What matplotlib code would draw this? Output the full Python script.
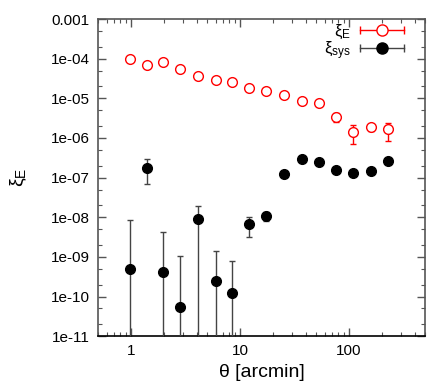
import numpy as np
import matplotlib
matplotlib.use("Agg")
import matplotlib.pyplot as plt
from matplotlib.lines import Line2D
from matplotlib.container import ErrorbarContainer
from matplotlib.legend_handler import HandlerBase
from matplotlib.ticker import FixedLocator, LogLocator, NullFormatter

plt.rcParams['font.family'] = ['Liberation Sans', 'DejaVu Sans']
plt.rcParams['mathtext.fontset'] = 'custom'
plt.rcParams['mathtext.rm'] = 'Liberation Sans'
plt.rcParams['mathtext.it'] = 'Liberation Sans:italic'

# angular bins [arcmin]
theta = [0.98, 1.40, 1.98, 2.85, 4.1, 6.0, 8.5, 12.2, 17.5, 25.5, 37.5, 53, 76, 108, 158, 230]

# E-mode correlation and errors
xi_e = [9.8e-5, 6.9e-5, 8.2e-5, 5.5e-5, 3.6e-5, 2.9e-5, 2.6e-5, 1.8e-5,
        1.52e-5, 1.2e-5, 8.5e-6, 7.6e-6, 3.4e-6, 1.4e-6, 1.9e-6, 1.66e-6]
xi_e_err = [6e-6, 5e-6, 5e-6, 4e-6, 2.5e-6, 2e-6, 2e-6, 1.5e-6,
            1.3e-6, 1.1e-6, 1.1e-6, 1.0e-6, 9e-7, 7e-7, 4e-7, 8e-7]

# systematics correlation and errors
xi_sys = [4.9e-10, 1.8e-7, 4.1e-10, 5.4e-11, 9.3e-9, 2.4e-10, 1.2e-10, 6.6e-9,
          1.07e-8, 1.23e-7, 2.9e-7, 2.5e-7, 1.56e-7, 1.3e-7, 1.44e-7, 2.6e-7]
xi_sys_err = [7.8e-9, 1.1e-7, 3.8e-9, 1.0e-9, 9.7e-9, 1.2e-9, 6.6e-10, 3.4e-9,
              2.8e-9, 1.5e-8, 3e-8, 3e-8, 2e-8, 1.5e-8, 1.5e-8, 3e-8]

yticks = [1e-11, 1e-10, 1e-9, 1e-8, 1e-7, 1e-6, 1e-5, 1e-4, 1e-3]
ytick_labels = ['1e-11', '1e-10', '1e-09', '1e-08', '1e-07', '1e-06', '1e-05', '1e-04', '0.001']
xticks = [1, 10, 100]
xtick_labels = ['1', '10', '100']


class ErrHandler(HandlerBase):
    """gnuplot-style key: horizontal bar with caps and a point in the middle"""
    def create_artists(self, legend, orig, xdescent, ydescent, width, height, fontsize, trans):
        data_line = orig[0]
        ecol = orig[2][0].get_color()[0]
        y = height / 2 - ydescent
        x0, x1 = -xdescent, width - xdescent
        bar = Line2D([x0, x1], [y, y], color=ecol, lw=1.0)
        caps = Line2D([x0, x1], [y, y], ls='none', marker='|', ms=6, mew=1.0, color=ecol)
        pt = Line2D([(x0 + x1) / 2], [y], ls='none', marker='o',
                    ms=data_line.get_markersize() + 1,
                    mfc=data_line.get_markerfacecolor(),
                    mec=data_line.get_markeredgecolor(), mew=data_line.get_markeredgewidth())
        for a in (bar, caps, pt):
            a.set_transform(trans)
        return [bar, caps, pt]


fig = plt.figure(figsize=(4.36, 3.82), dpi=100)
ax = fig.add_axes([0.225, 0.12, 0.75, 0.83])
ax.set_xscale('log')
ax.set_yscale('log')

eb_e = ax.errorbar(theta, xi_e, yerr=xi_e_err, fmt='o', ms=7, mfc='white', mec='red',
                   mew=1.0, ecolor='red', elinewidth=1.0, capsize=2.5, capthick=1.0,
                   label='ξ$_\\mathrm{E}$', zorder=3)
eb_s = ax.errorbar(theta, xi_sys, yerr=xi_sys_err, fmt='o', ms=7, mfc='black', mec='black',
                   ecolor='#444444', elinewidth=1.0, capsize=2, capthick=1.0,
                   label='ξ$_\\mathrm{sys}$', zorder=3)

ax.set_xlim(0.5, 500)
ax.set_ylim(1e-11, 1e-3)
ax.yaxis.set_major_locator(FixedLocator(yticks))
ax.set_yticklabels(ytick_labels)
ax.yaxis.set_minor_locator(LogLocator(base=10, subs=[2, 5], numticks=30))
ax.yaxis.set_minor_formatter(NullFormatter())
ax.xaxis.set_major_locator(FixedLocator(xticks))
ax.set_xticklabels(xtick_labels)
ax.xaxis.set_minor_locator(LogLocator(base=10, subs=np.arange(2, 10), numticks=30))
ax.xaxis.set_minor_formatter(NullFormatter())

ax.tick_params(which='both', direction='in', top=True, right=True, labelsize=11, color='#555555')
ax.tick_params(which='major', length=6, width=1.0, pad=6)
ax.tick_params(which='minor', length=3, width=0.8)
for s in ax.spines.values():
    s.set_color('#555555')
    s.set_linewidth(1.2)
ax.spines['bottom'].set_color('black')

ax.set_xlabel('θ [arcmin]', fontsize=14, labelpad=4)
ax.set_ylabel('ξ$_\\mathrm{E}$', fontsize=14, labelpad=16)

ax.legend(handles=[eb_e, eb_s], handler_map={ErrorbarContainer: ErrHandler()},
          loc='upper right', bbox_to_anchor=(0.945, 1.0), frameon=False,
          markerfirst=False, fontsize=12, handlelength=2.6, handletextpad=0.6,
          labelspacing=-0.1, borderaxespad=0.0, borderpad=0.2)

fig.savefig('out.png', dpi=100)
